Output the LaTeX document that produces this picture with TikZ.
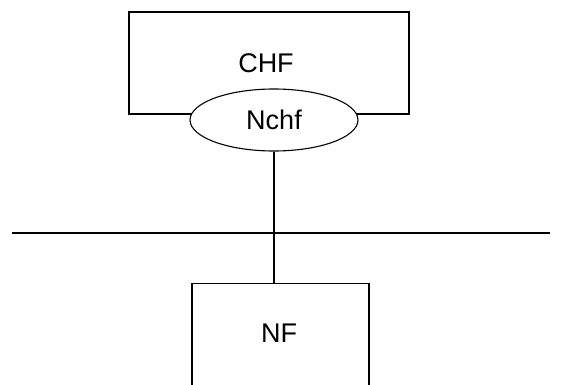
\documentclass[tikz,border=0pt]{standalone}
\usepackage{fontspec}
\setmainfont{Liberation Sans}
\usetikzlibrary{shapes.geometric}
\begin{document}
\begin{tikzpicture}[x=1pt,y=-1pt,line width=1.1pt,
  box/.style={draw,rectangle,inner sep=0pt},
  iface/.style={draw,ellipse,fill=white,inner sep=0pt,minimum width=168pt,minimum height=62pt},
  lbl/.style={font=\fontsize{27}{30}\selectfont}]
\useasboundingbox (0,0) rectangle (575,385);
\clip (0,0) rectangle (575,385);
\node[box,minimum width=280pt,minimum height=102pt] (chf) at (269,63) {};
\node[lbl] (chft) at (266,63) {CHF};
\node[iface,lbl] (nchf) at (274,120) {Nchf};
\node[box,minimum width=177pt,minimum height=160pt,anchor=north] (nf) at (280.5,283) {};
\node[lbl] (nft) at (279,333) {NF};
\coordinate (bl) at (12,233);
\coordinate (br) at (550,233);
\draw (bl) -- (br);
\draw (nchf.south) -- (nf.north -| nchf.south);
\end{tikzpicture}
\end{document}
